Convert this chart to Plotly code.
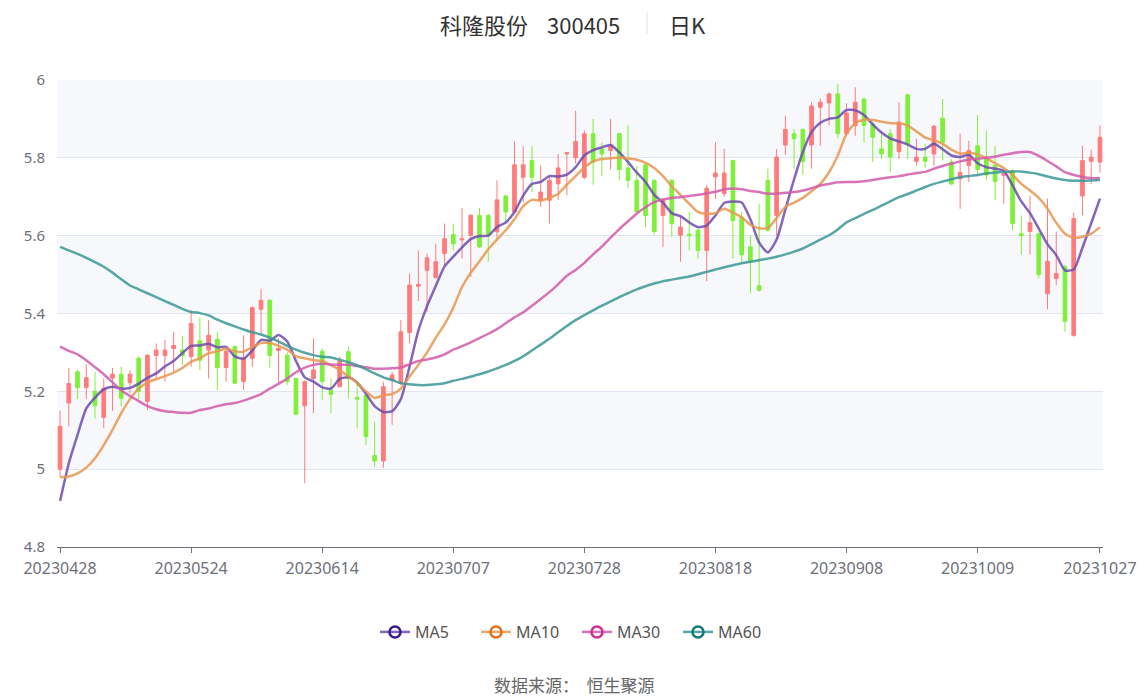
import plotly.graph_objects as go

dates = [
    "20230428", "20230504", "20230505",
    "20230508", "20230509", "20230510", "20230511", "20230512",
    "20230515", "20230516", "20230517", "20230518", "20230519",
    "20230522", "20230523", "20230524", "20230525", "20230526",
    "20230529", "20230530", "20230531", "20230601", "20230602",
    "20230605", "20230606", "20230607", "20230608", "20230609",
    "20230612", "20230613", "20230614", "20230615", "20230616",
    "20230619", "20230620", "20230621",
    "20230626", "20230627", "20230628", "20230629", "20230630",
    "20230703", "20230704", "20230705", "20230706", "20230707",
    "20230710", "20230711", "20230712", "20230713", "20230714",
    "20230717", "20230718", "20230719", "20230720", "20230721",
    "20230724", "20230725", "20230726", "20230727", "20230728",
    "20230731", "20230801", "20230802", "20230803", "20230804",
    "20230807", "20230808", "20230809", "20230810", "20230811",
    "20230814", "20230815", "20230816", "20230817", "20230818",
    "20230821", "20230822", "20230823", "20230824", "20230825",
    "20230828", "20230829", "20230830", "20230831", "20230901",
    "20230904", "20230905", "20230906", "20230907", "20230908",
    "20230911", "20230912", "20230913", "20230914", "20230915",
    "20230918", "20230919", "20230920", "20230921", "20230922",
    "20230925", "20230926", "20230927", "20230928",
    "20231009", "20231010", "20231011", "20231012", "20231013",
    "20231016", "20231017", "20231018", "20231019", "20231020",
    "20231023", "20231024", "20231025", "20231026", "20231027",
]

open_ = [5.00, 5.17, 5.25, 5.21, 5.20, 5.133, 5.234, 5.244, 5.222, 5.285,
         5.174, 5.292, 5.292, 5.31, 5.306, 5.289, 5.33, 5.306, 5.334, 5.261,
         5.315, 5.225, 5.285, 5.411, 5.434, 5.305, 5.293, 5.233, 5.163, 5.233,
         5.303, 5.203, 5.212, 5.302, 5.184, 5.19, 5.035, 5.021, 5.229, 5.221,
         5.351, 5.47, 5.511, 5.492, 5.554, 5.603, 5.589, 5.601, 5.652, 5.652,
         5.61, 5.702, 5.661, 5.75, 5.793, 5.691, 5.691, 5.733, 5.81, 5.80,
         5.75, 5.862, 5.823, 5.819, 5.862, 5.774, 5.742, 5.782, 5.742, 5.652,
         5.742, 5.601, 5.604, 5.614, 5.562, 5.751, 5.708, 5.793, 5.648, 5.571,
         5.471, 5.742, 5.652, 5.833, 5.862, 5.873, 5.833, 5.93, 5.941, 5.964,
         5.862, 5.883, 5.951, 5.887, 5.823, 5.862, 5.816, 5.962, 5.791, 5.802,
         5.81, 5.902, 5.789, 5.746, 5.78, 5.831, 5.797, 5.78, 5.755, 5.767,
         5.605, 5.611, 5.605, 5.451, 5.49, 5.52, 5.344, 5.702, 5.791, 5.789]
close = [5.11, 5.22, 5.21, 5.235, 5.163, 5.208, 5.244, 5.182, 5.244, 5.20,
         5.293, 5.306, 5.306, 5.318, 5.292, 5.374, 5.28, 5.344, 5.261, 5.303,
         5.221, 5.285, 5.415, 5.434, 5.292, 5.31, 5.225, 5.141, 5.225, 5.255,
         5.225, 5.192, 5.278, 5.233, 5.18, 5.084, 5.021, 5.212, 5.242, 5.353,
         5.473, 5.475, 5.543, 5.533, 5.592, 5.579, 5.592, 5.652, 5.571, 5.601,
         5.692, 5.661, 5.782, 5.782, 5.75, 5.712, 5.742, 5.774, 5.813, 5.842,
         5.862, 5.789, 5.81, 5.831, 5.77, 5.742, 5.661, 5.652, 5.611, 5.691,
         5.631, 5.622, 5.60, 5.562, 5.722, 5.761, 5.761, 5.639, 5.551, 5.533,
         5.46, 5.614, 5.802, 5.873, 5.849, 5.791, 5.933, 5.943, 5.964, 5.862,
         5.915, 5.943, 5.883, 5.853, 5.81, 5.802, 5.892, 5.836, 5.802, 5.791,
         5.881, 5.84, 5.733, 5.762, 5.819, 5.77, 5.756, 5.739, 5.76, 5.631,
         5.60, 5.633, 5.50, 5.534, 5.503, 5.38, 5.644, 5.793, 5.802, 5.853]
high = [5.15, 5.26, 5.255, 5.27, 5.25, 5.233, 5.26, 5.263, 5.255, 5.29,
        5.295, 5.323, 5.332, 5.353, 5.343, 5.408, 5.39, 5.383, 5.353, 5.31,
        5.318, 5.344, 5.418, 5.464, 5.436, 5.336, 5.30, 5.235, 5.228, 5.336,
        5.31, 5.233, 5.289, 5.315, 5.225, 5.199, 5.122, 5.225, 5.25, 5.383,
        5.503, 5.562, 5.554, 5.579, 5.631, 5.631, 5.671, 5.655, 5.671, 5.655,
        5.742, 5.705, 5.842, 5.83, 5.83, 5.78, 5.755, 5.81, 5.815, 5.921,
        5.87, 5.90, 5.84, 5.90, 5.865, 5.883, 5.78, 5.785, 5.745, 5.697,
        5.745, 5.648, 5.661, 5.618, 5.73, 5.84, 5.823, 5.795, 5.661, 5.601,
        5.682, 5.772, 5.823, 5.908, 5.874, 5.875, 5.943, 5.953, 5.968, 5.99,
        5.94, 5.981, 5.955, 5.892, 5.862, 5.874, 5.943, 5.965, 5.849, 5.836,
        5.885, 5.951, 5.797, 5.862, 5.844, 5.91, 5.87, 5.83, 5.762, 5.77,
        5.652, 5.702, 5.608, 5.695, 5.611, 5.525, 5.659, 5.831, 5.821, 5.883]
low = [4.98, 5.11, 5.18, 5.18, 5.13, 5.105, 5.15, 5.161, 5.195, 5.18,
       5.152, 5.233, 5.225, 5.25, 5.268, 5.263, 5.255, 5.233, 5.203, 5.225,
       5.218, 5.203, 5.263, 5.344, 5.261, 5.221, 5.216, 5.14, 4.964, 5.144,
       5.178, 5.144, 5.21, 5.182, 5.105, 5.062, 5.007, 5.004, 5.114, 5.215,
       5.323, 5.432, 5.404, 5.49, 5.524, 5.562, 5.541, 5.494, 5.568, 5.533,
       5.592, 5.635, 5.658, 5.686, 5.712, 5.674, 5.631, 5.691, 5.704, 5.785,
       5.745, 5.731, 5.753, 5.77, 5.742, 5.722, 5.658, 5.622, 5.603, 5.571,
       5.597, 5.533, 5.562, 5.541, 5.483, 5.695, 5.699, 5.541, 5.533, 5.451,
       5.456, 5.61, 5.601, 5.808, 5.772, 5.755, 5.772, 5.831, 5.883, 5.851,
       5.855, 5.857, 5.84, 5.789, 5.797, 5.763, 5.797, 5.797, 5.78, 5.775,
       5.78, 5.793, 5.73, 5.669, 5.738, 5.759, 5.742, 5.691, 5.682, 5.614,
       5.551, 5.551, 5.49, 5.411, 5.473, 5.353, 5.34, 5.652, 5.733, 5.762]

ma5 = [4.918, 5.015, 5.088, 5.156, 5.184, 5.205, 5.212, 5.207, 5.209, 5.22,
       5.235, 5.246, 5.264, 5.278, 5.298, 5.317, 5.318, 5.322, 5.313, 5.314,
       5.29, 5.284, 5.305, 5.332, 5.33, 5.345, 5.328, 5.278, 5.236, 5.225,
       5.21, 5.207, 5.232, 5.236, 5.222, 5.194, 5.162, 5.147, 5.149, 5.18,
       5.264, 5.356, 5.419, 5.471, 5.521, 5.546, 5.57, 5.591, 5.599, 5.60,
       5.622, 5.634, 5.661, 5.703, 5.733, 5.738, 5.753, 5.752, 5.757, 5.776,
       5.806, 5.82, 5.827, 5.833, 5.814, 5.789, 5.762, 5.738, 5.705, 5.685,
       5.658, 5.65, 5.634, 5.622, 5.626, 5.652, 5.684, 5.688, 5.685, 5.642,
       5.582, 5.557, 5.59, 5.667, 5.745, 5.815, 5.866, 5.89, 5.90, 5.904,
       5.923, 5.922, 5.91, 5.886, 5.865, 5.85, 5.842, 5.834, 5.823, 5.823,
       5.836, 5.822, 5.806, 5.802, 5.808, 5.786, 5.776, 5.772, 5.767, 5.729,
       5.688, 5.658, 5.618, 5.578, 5.55, 5.511, 5.513, 5.569, 5.632, 5.695]
ma10 = [4.979, 4.981, 4.989, 5.004, 5.028, 5.062, 5.101, 5.144, 5.18, 5.207,
        5.223, 5.231, 5.239, 5.248, 5.26, 5.276, 5.285, 5.298, 5.303, 5.31,
        5.303, 5.302, 5.314, 5.324, 5.324, 5.317, 5.307, 5.29, 5.285, 5.28,
        5.278, 5.267, 5.255, 5.238, 5.222, 5.20, 5.183, 5.19, 5.193, 5.207,
        5.238, 5.268, 5.30, 5.338, 5.372, 5.415, 5.468, 5.505, 5.534, 5.565,
        5.59, 5.614, 5.642, 5.676, 5.692, 5.69, 5.697, 5.708, 5.731, 5.753,
        5.775, 5.791, 5.797, 5.799, 5.801, 5.798, 5.795, 5.787, 5.774, 5.753,
        5.727, 5.705, 5.682, 5.661, 5.656, 5.658, 5.669, 5.659, 5.647, 5.628,
        5.619, 5.62, 5.645, 5.674, 5.685, 5.697, 5.714, 5.733, 5.763, 5.806,
        5.862, 5.889, 5.898, 5.897, 5.893, 5.889, 5.889, 5.883, 5.868, 5.852,
        5.845, 5.836, 5.821, 5.811, 5.813, 5.809, 5.799, 5.786, 5.774, 5.756,
        5.733, 5.716, 5.697, 5.669, 5.633, 5.605, 5.594, 5.597, 5.605, 5.622]
ma30 = [5.315, 5.304, 5.295, 5.28, 5.262, 5.244, 5.223, 5.203, 5.188, 5.175,
        5.162, 5.154, 5.149, 5.147, 5.145, 5.145, 5.152, 5.156, 5.162, 5.167,
        5.17, 5.176, 5.184, 5.193, 5.207, 5.219, 5.233, 5.249, 5.261, 5.268,
        5.271, 5.269, 5.268, 5.268, 5.265, 5.262, 5.258, 5.258, 5.259, 5.261,
        5.27, 5.278, 5.282, 5.287, 5.295, 5.307, 5.316, 5.326, 5.337, 5.348,
        5.36, 5.375, 5.39, 5.403, 5.42, 5.437, 5.455, 5.475, 5.497, 5.512,
        5.53, 5.552, 5.572, 5.595, 5.617, 5.637, 5.657, 5.673, 5.686, 5.693,
        5.697, 5.699, 5.702, 5.705, 5.709, 5.713, 5.719, 5.721, 5.719, 5.715,
        5.712, 5.708, 5.708, 5.71, 5.712, 5.716, 5.722, 5.729, 5.733, 5.737,
        5.738, 5.738, 5.74, 5.743, 5.747, 5.75, 5.753, 5.757, 5.761, 5.764,
        5.772, 5.779, 5.785, 5.791, 5.796, 5.798, 5.80, 5.803, 5.808, 5.812,
        5.815, 5.815, 5.805, 5.792, 5.778, 5.763, 5.756, 5.751, 5.748, 5.748]
ma60 = [5.571, 5.562, 5.553, 5.543, 5.532, 5.52, 5.505, 5.488, 5.472, 5.462,
        5.452, 5.442, 5.432, 5.422, 5.412, 5.404, 5.401, 5.395, 5.384, 5.375,
        5.367, 5.359, 5.352, 5.346, 5.338, 5.328, 5.317, 5.307, 5.299, 5.293,
        5.289, 5.287, 5.281, 5.275, 5.267, 5.257, 5.246, 5.236, 5.229, 5.221,
        5.218, 5.216, 5.216, 5.218, 5.221, 5.227, 5.232, 5.238, 5.244, 5.251,
        5.259, 5.268, 5.278, 5.29, 5.305, 5.32, 5.335, 5.352, 5.368, 5.383,
        5.396, 5.408, 5.42, 5.431, 5.442, 5.452, 5.462, 5.47, 5.477, 5.483,
        5.487, 5.491, 5.495, 5.501, 5.507, 5.513, 5.519, 5.524, 5.529, 5.533,
        5.537, 5.541, 5.546, 5.552, 5.559, 5.567, 5.578, 5.59, 5.601, 5.616,
        5.634, 5.645, 5.656, 5.666, 5.677, 5.688, 5.699, 5.707, 5.716, 5.725,
        5.733, 5.739, 5.745, 5.75, 5.753, 5.756, 5.76, 5.762, 5.764, 5.765,
        5.765, 5.762, 5.758, 5.752, 5.747, 5.743, 5.741, 5.741, 5.742, 5.743]

tick_dates = ["20230428", "20230524", "20230614", "20230707", "20230728",
              "20230818", "20230908", "20231009", "20231027"]
y_ticks = [4.8, 5.0, 5.2, 5.4, 5.6, 5.8, 6.0]
y_tick_text = ["4.8", "5", "5.2", "5.4", "5.6", "5.8", "6"]

ma_names = ["MA5", "MA10", "MA30", "MA60"]
ma_series = [ma5, ma10, ma30, ma60]
ma_line_colors = ["rgba(110,75,175,0.85)", "rgba(232,150,80,0.85)",
                  "rgba(210,90,170,0.85)", "rgba(60,150,150,0.85)"]
ma_marker_colors = ["#3d1a8c", "#e07020", "#d02e8c", "#137a78"]

# page has an 8px body margin: figure is drawn 8px right / down of window origin
OFF = 8
W, H = 1148 - 2 * OFF, 699 - OFF
L, T = 57 - OFF, 80 - OFF
R = W - (1103 - OFF)
B = H - (547 - OFF)
pw = W - L - R
ph = H - T - B


def px_x(x_ref):
    return (x_ref - OFF - L) / pw


def px_y(y_ref):
    return (H - B - (y_ref - OFF)) / ph


fig = go.Figure()

fig.add_trace(go.Candlestick(
    x=dates, open=open_, high=high, low=low, close=close,
    increasing=dict(line=dict(color="#ff7b7b", width=1), fillcolor="#ff7b7b"),
    decreasing=dict(line=dict(color="#7ff03a", width=1), fillcolor="#7ff03a"),
    whiskerwidth=0, showlegend=False, hoverinfo="skip",
))

for name, vals, lc in zip(ma_names, ma_series, ma_line_colors):
    fig.add_trace(go.Scatter(
        x=dates, y=vals, mode="lines", name=name,
        line=dict(color=lc, width=2.5, shape="spline", smoothing=0.6),
        showlegend=False, hoverinfo="skip",
    ))

for name, lc, mc in zip(ma_names, ma_line_colors, ma_marker_colors):
    fig.add_trace(go.Scatter(
        x=[None], y=[None], mode="lines+markers", name=name,
        line=dict(color=lc, width=2.5),
        marker=dict(symbol="circle-open", size=11, color=mc,
                    line=dict(width=2.5, color=mc)),
    ))

shapes = []
for k in range(len(y_ticks) - 1):
    if k % 2 == 1:
        shapes.append(dict(type="rect", xref="paper", yref="y",
                           x0=0, x1=1, y0=y_ticks[k], y1=y_ticks[k + 1],
                           fillcolor="rgb(246,248,252)", line=dict(width=0),
                           layer="below"))

shapes.append(dict(type="line", xref="paper", yref="paper",
                   x0=px_x(647), x1=px_x(647), y0=px_y(12), y1=px_y(34),
                   line=dict(color="#e3e3e3", width=1)))

title_font = dict(size=22, color="#333333", family="Noto Sans CJK SC")
annotations = [
    dict(text="科隆股份", x=px_x(484), y=px_y(24)),
    dict(text="300405", x=px_x(583), y=px_y(24)),
    dict(text="日K", x=px_x(687), y=px_y(24)),
]
for a in annotations:
    a.update(xref="paper", yref="paper", showarrow=False,
             xanchor="center", yanchor="middle", font=title_font)
annotations.append(dict(
    text="数据来源：  恒生聚源", x=px_x(574), y=px_y(684),
    xref="paper", yref="paper", showarrow=False,
    xanchor="center", yanchor="middle",
    font=dict(size=17, color="#666666", family="Noto Sans CJK SC")))

fig.update_layout(
    width=W, height=H,
    margin=dict(l=L, r=R, t=T, b=B, autoexpand=False),
    paper_bgcolor="white", plot_bgcolor="white",
    font=dict(family="Noto Sans CJK SC", color="#6e7079"),
    shapes=shapes, annotations=annotations,
    boxgap=0.4,
    legend=dict(orientation="h", x=px_x(577), xanchor="center",
                y=px_y(632), yanchor="middle",
                font=dict(size=16, color="#555555", family="Noto Sans"),
                itemwidth=30, entrywidth=56, entrywidthmode="pixels"),
    xaxis=dict(type="category", categoryorder="array", categoryarray=dates,
               range=[-0.35, len(dates) - 1 + 0.35],
               rangeslider=dict(visible=False),
               tickmode="array", tickvals=tick_dates, ticktext=tick_dates,
               showgrid=False, showline=True, linecolor="#6e7079", linewidth=1,
               ticks="outside", ticklen=5, tickcolor="#6e7079",
               ticklabelstandoff=2,
               tickfont=dict(size=16, color="#6e7079", family="Noto Sans"),
               zeroline=False, fixedrange=True),
    yaxis=dict(range=[4.8, 6.0], tickmode="array", tickvals=y_ticks,
               ticktext=y_tick_text, showgrid=True, gridcolor="#e0e6f1",
               gridwidth=1, zeroline=False, showline=False, ticks="",
               ticklabelstandoff=11,
               tickfont=dict(size=15, color="#6e7079", family="Noto Sans"),
               fixedrange=True),
)

fig.write_html("out.html")
